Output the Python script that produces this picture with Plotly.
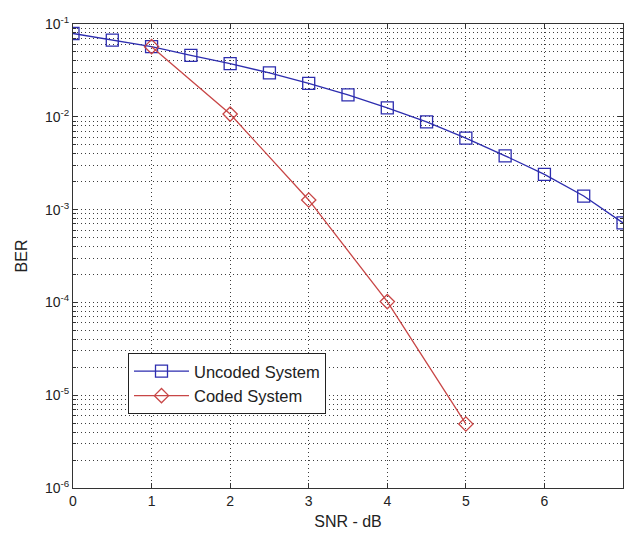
import plotly.graph_objects as go

snr_uncoded = [0, 0.5, 1, 1.5, 2, 2.5, 3, 3.5, 4, 4.5, 5, 5.5, 6, 6.5, 7]
ber_uncoded = [0.079, 0.067, 0.057, 0.046, 0.0375, 0.0297, 0.0229, 0.0172, 0.0125, 0.0088, 0.0059, 0.0038, 0.0024, 0.0014, 0.00072]
snr_coded = [1, 2, 3, 4, 5]
ber_coded = [0.057, 0.0107, 0.00127, 0.000102, 4.9e-6]

ytick_vals = [1e-1, 1e-2, 1e-3, 1e-4, 1e-5, 1e-6]
ytick_text = ["10<sup>-1</sup>", "10<sup>-2</sup>", "10<sup>-3</sup>", "10<sup>-4</sup>", "10<sup>-5</sup>", "10<sup>-6</sup>"]
xtick_vals = [0, 1, 2, 3, 4, 5, 6, 7]
decade_exponents = [-6, -5, -4, -3, -2]
minor_mantissas = [2, 3, 4, 5, 6, 7, 8, 9]
ytick_minor = [m * 10.0 ** e for e in decade_exponents for m in minor_mantissas]

GRID = "rgba(40,40,40,0.9)"
DOT = "1px,3px"

fig = go.Figure()
# empty trace so the minor-grid overlay axis is drawn
fig.add_trace(go.Scatter(x=[], y=[], yaxis="y2", showlegend=False, hoverinfo="skip"))
fig.add_trace(go.Scatter(
    x=snr_uncoded, y=ber_uncoded, mode="lines+markers", name="Uncoded System",
    line=dict(color="rgb(45,45,175)", width=1.3),
    marker=dict(symbol="square-open", size=12, color="rgb(45,45,175)", line=dict(width=1.3)),
))
fig.add_trace(go.Scatter(
    x=snr_coded, y=ber_coded, mode="lines+markers", name="Coded System",
    line=dict(color="rgb(200,70,70)", width=1.3),
    marker=dict(symbol="diamond-open", size=11, color="rgb(200,70,70)", line=dict(width=1.3)),
))

fig.update_layout(
    width=625, height=533,
    margin=dict(l=73, r=2, t=24, b=45),
    paper_bgcolor="white", plot_bgcolor="white",
    font=dict(family="Liberation Sans, Arial, sans-serif", size=14, color="#222"),
    showlegend=True,
    legend=dict(
        x=0.1, y=0.291, xanchor="left", yanchor="top",
        bgcolor="white", bordercolor="#222", borderwidth=1,
        font=dict(size=16.5),
        itemwidth=55,
        tracegroupgap=0,
    ),
    xaxis=dict(
        range=[0, 7], tickvals=xtick_vals, ticks="inside", ticklen=5, tickcolor="#333",
        showline=True, linecolor="#333", linewidth=1, mirror="ticks",
        showgrid=True, gridcolor=GRID, griddash=DOT, gridwidth=1,
        zeroline=False,
        title=dict(text="SNR - dB", standoff=8, font=dict(size=16)),
        tickfont=dict(size=14),
    ),
    yaxis=dict(
        type="log", range=[-6, -1], tickvals=ytick_vals, ticktext=ytick_text,
        ticks="inside", ticklen=5, tickcolor="#333",
        showline=True, linecolor="#333", linewidth=1, mirror="ticks",
        showgrid=True, gridcolor=GRID, griddash=DOT, gridwidth=1,
        zeroline=False,
        title=dict(text="BER", standoff=13, font=dict(size=16)),
        tickfont=dict(size=14),
    ),
    yaxis2=dict(
        type="log", range=[-6, -1], overlaying="y", side="left",
        tickvals=ytick_minor, showticklabels=False,
        ticks="inside", ticklen=3, tickcolor="#333",
        showline=True, linecolor="#333", linewidth=1, mirror="ticks",
        showgrid=True, gridcolor=GRID, griddash=DOT, gridwidth=1,
        zeroline=False,
    ),
)

page_fix = (
    "document.body.style.margin='0';"
    "document.body.style.overflow='hidden';"
    "document.documentElement.style.overflow='hidden';"
)
fig.write_html("out.html", post_script=page_fix, config={"displayModeBar": False})
